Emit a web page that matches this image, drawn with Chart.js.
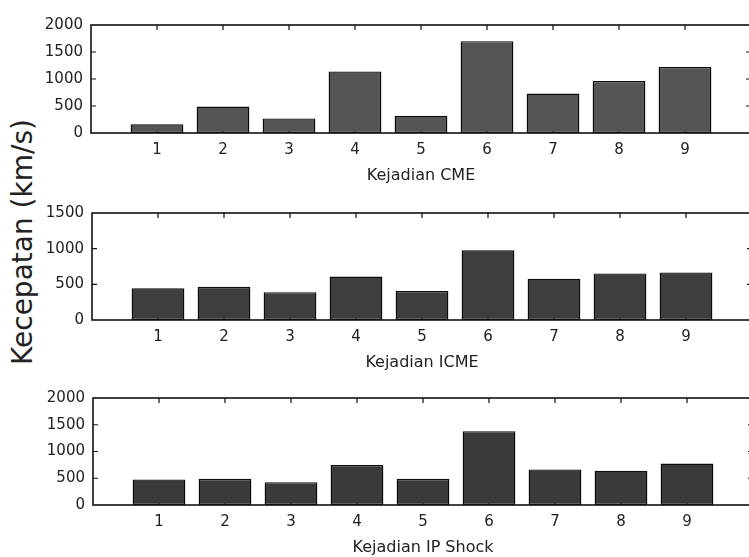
<!DOCTYPE html>
<html>
<head>
<meta charset="utf-8">
<script src="https://cdn.jsdelivr.net/npm/chart.js@4.4.0/dist/chart.umd.min.js"></script>
<style>
  html, body { margin: 0; padding: 0; background: #fff; overflow: hidden; width: 749px; height: 557px; }
  #wrap { position: relative; width: 749px; height: 557px; overflow: hidden; }
  canvas { position: absolute; left: 0; }
  #ytitle {
    position: absolute; left: -127px; top: 227px; width: 300px; height: 30px;
    line-height: 30px; text-align: center; white-space: nowrap;
    font-family: "DejaVu Sans", sans-serif; font-size: 28px; color: #222;
    transform: rotate(-90deg);
  }
</style>
</head>
<body>
<div id="wrap">
  <div id="ytitle">Kecepatan (km/s)</div>
  <canvas id="cmeChart" width="751" height="177" style="top:8px"></canvas>
  <canvas id="icmeChart" width="752" height="176" style="top:196px"></canvas>
  <canvas id="shockChart" width="753" height="176" style="top:381px"></canvas>
</div>
<script>
// ── Data ────────────────────────────────────────────────────────────────
const EVENTS = [1, 2, 3, 4, 5, 6, 7, 8, 9];

const CME_SPEED   = [160, 490, 270, 1140, 320, 1700, 730, 965, 1220];
const ICME_SPEED  = [445, 465, 390, 610, 408, 978, 580, 653, 667];
const SHOCK_SPEED = [478, 490, 426, 746, 490, 1380, 665, 641, 776];

const CME_Y_TICKS   = [0, 500, 1000, 1500, 2000];
const ICME_Y_TICKS  = [0, 500, 1000, 1500];
const SHOCK_Y_TICKS = [0, 500, 1000, 1500, 2000];

const X_RANGE = [0, 10];

// ── Style ───────────────────────────────────────────────────────────────
const FONT = "'DejaVu Sans', sans-serif";
const TEXT = "#222";
const LINE = "#111";
const TICK_LEN = 5;

// inward tick marks + closed axis box (MATLAB look)
const frame = {
  id: "frame",
  beforeDatasetsDraw(chart) {
    const { ctx, chartArea: a, scales: { x, y } } = chart;
    ctx.save();
    ctx.strokeStyle = LINE;
    ctx.lineWidth = 1.2;
    ctx.beginPath();
    x.ticks.forEach(t => {
      const px = x.getPixelForValue(t.value);
      ctx.moveTo(px, a.top); ctx.lineTo(px, a.top + TICK_LEN);
      ctx.moveTo(px, a.bottom); ctx.lineTo(px, a.bottom - TICK_LEN);
    });
    y.ticks.forEach(t => {
      if (t.value <= y.min || t.value >= y.max) return;
      const py = y.getPixelForValue(t.value);
      ctx.moveTo(a.left, py); ctx.lineTo(a.left + TICK_LEN, py);
      ctx.moveTo(a.right, py); ctx.lineTo(a.right - TICK_LEN, py);
    });
    ctx.stroke();
    ctx.restore();
  },
  afterDatasetsDraw(chart) {
    const { ctx, chartArea: a } = chart;
    ctx.save();
    ctx.strokeStyle = LINE;
    ctx.lineWidth = 1.6;
    ctx.strokeRect(a.left, a.top, a.right - a.left, a.bottom - a.top);
    ctx.restore();
  }
};

function makePanel(id, values, yTicks, title, fill, axisLeft) {
  new Chart(document.getElementById(id), {
    type: "bar",
    data: {
      datasets: [{
        data: EVENTS.map((e, i) => ({ x: e, y: values[i] })),
        backgroundColor: fill,
        borderColor: "#0c0c0c",
        borderWidth: 1.4,
        borderSkipped: false,
        categoryPercentage: 1,
        barPercentage: 0.8,
      }]
    },
    options: {
      responsive: false,
      animation: false,
      events: [],
      layout: { autoPadding: false, padding: { top: 10, left: 0, right: 0, bottom: 0 } },
      plugins: { legend: { display: false }, tooltip: { enabled: false } },
      scales: {
        x: {
          type: "linear",
          offset: false,
          min: X_RANGE[0],
          max: X_RANGE[1],
          afterBuildTicks: s => { s.ticks = EVENTS.map(v => ({ value: v })); },
          afterFit: s => { s.height = 52; },
          grid: { display: false, drawTicks: false },
          border: { display: false },
          ticks: { color: TEXT, font: { family: FONT, size: 15 }, padding: 8, callback: v => String(v) },
          title: { display: true, text: title, color: TEXT, font: { family: FONT, size: 16 }, padding: 0 }
        },
        y: {
          min: yTicks[0],
          max: yTicks[yTicks.length - 1],
          afterBuildTicks: s => { s.ticks = yTicks.map(v => ({ value: v })); },
          afterFit: s => { s.width = axisLeft; },
          grid: { display: false, drawTicks: false },
          border: { display: false },
          ticks: { color: TEXT, font: { family: FONT, size: 15 }, padding: 8, callback: v => String(v) }
        }
      }
    },
    plugins: [frame]
  });
}

// ── Init ────────────────────────────────────────────────────────────────
makePanel("cmeChart", CME_SPEED, CME_Y_TICKS, "Kejadian CME", "#555555", 91);
makePanel("icmeChart", ICME_SPEED, ICME_Y_TICKS, "Kejadian ICME", "#3e3e3e", 92);
makePanel("shockChart", SHOCK_SPEED, SHOCK_Y_TICKS, "Kejadian IP Shock", "#3a3a3a", 93);
</script>
</body>
</html>
